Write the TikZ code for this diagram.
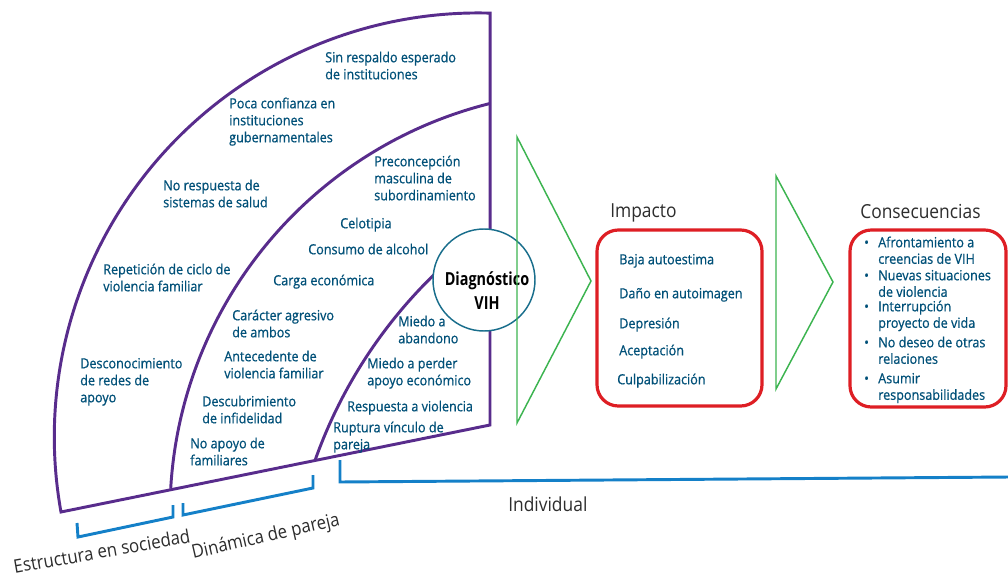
\documentclass[tikz,border=0pt]{standalone}
\usepackage{fontspec}
\setmainfont{Open Sans}[FakeStretch=0.9]
\newfontfamily\bluefont{Open Sans}[FakeStretch=0.9, FakeBold=0.7]
\newfontfamily\diagfont{Open Sans}[FakeStretch=0.8]
\definecolor{txt}{RGB}{0,80,120}
\definecolor{purp}{RGB}{88,44,140}
\definecolor{grn}{RGB}{60,180,80}
\definecolor{redb}{RGB}{222,30,36}
\definecolor{blu}{RGB}{20,128,200}
\definecolor{circ}{RGB}{25,110,140}
\definecolor{ttl}{RGB}{45,45,45}
\newcommand{\fs}{\rule{0pt}{10pt}}
\begin{document}
\begin{tikzpicture}[x=0.75pt, y=-0.75pt,
  fan/.style={draw=purp, line width=2.2pt},
  chev/.style={draw=grn, line width=1.1pt, line join=miter},
  rbox/.style={draw=redb, line width=2.4pt, rounded corners=16pt, inner sep=0pt},
  brk/.style={draw=blu, line width=2.2pt, line join=miter},
  ft/.style={anchor=north west, inner sep=0pt, align=left, text=txt, font=\bluefont\fontsize{10.5}{12.75}\selectfont},
  ct/.style={anchor=north west, inner sep=0pt, align=left, text=txt, font=\bluefont\fontsize{10.5}{12.4}\selectfont},
  lbl/.style={inner sep=0pt, text=ttl, font=\fontsize{14}{17}\selectfont},
  diag/.style={circle, draw=circ, line width=1.1pt, fill=white, minimum size=76.5pt, inner sep=0pt},
  diagtxt/.style={align=center, inner sep=0pt, font=\diagfont\fontsize{13.5}{18}\selectfont\bfseries, text=black}
]
\useasboundingbox (0,0) rectangle (1008,578);
\fill[white] (0,0) rectangle (1008,578);

% fan outline and arcs
\draw[fan] (61,512) arc[start angle=169.8, end angle=271.6, radius=424] -- (490,425) -- cycle;
\draw[fan] (170.7,488.7) arc[start angle=183.3, end angle=256, radius=422];
\draw[fan] (315,460.5) arc[start angle=199.5, end angle=230, radius=485];

% central circle
\node[diag] (dx) at (484,280) {};
\node[diagtxt] (dxt) at (487,291) {Diagnóstico\\VIH};

% outer ring texts
\node[ft] (t1) at (325,48.7) {\fs Sin respaldo esperado\\de instituciones};
\node[ft] (t2) at (229,94.7) {\fs Poca confianza en\\instituciones\\gubernamentales};
\node[ft] (t3) at (163,176.7) {\fs No respuesta de\\sistemas de salud};
\node[ft] (t4) at (103,260.7) {\fs Repetición de ciclo de\\violencia familiar};
\node[ft] (t5) at (80,354.7) {\fs Desconocimiento\\de redes de\\apoyo};
% middle ring texts
\node[ft] (m1) at (374,152.7) {\fs Preconcepción\\masculina de\\subordinamiento};
\node[ft] (m2) at (340,214.7) {\fs Celotipia};
\node[ft] (m3) at (308,240.7) {\fs Consumo de alcohol};
\node[ft] (m4) at (273,271.7) {\fs Carga económica};
\node[ft] (m5) at (232,306.7) {\fs Carácter agresivo\\de ambos};
\node[ft] (m6) at (224,347.7) {\fs Antecedente de\\violencia familiar};
\node[ft] (m7) at (202,392.7) {\fs Descubrimiento\\de infidelidad};
\node[ft] (m8) at (190,434.7) {\fs No apoyo de\\familiares};
% inner ring texts
\node[ft] (i1) at (398,312.7) {\fs Miedo a\\abandono};
\node[ft] (i2) at (367,354.7) {\fs Miedo a perder\\apoyo económico};
\node[ft] (i3) at (347,397.7) {\fs Respuesta a violencia};
\node[ft] (i4) at (333,418.7) {\fs Ruptura vínculo de\\pareja};

% chevrons
\draw[chev] (517,137) -- (591,281) -- (517,423) -- cycle;
\draw[chev] (776,176) -- (833,282) -- (776,389) -- cycle;

% impact box
\node[lbl, anchor=base west, font=\fontsize{14.5}{17}\selectfont] (timp) at (610,217) {Impacto};
\node[rbox, minimum width=123.75pt, minimum height=132pt] (imp) at (679.5,318) {};
\node[ft] (b1) at (619,250.7) {\fs Baja autoestima};
\node[ft] (b2) at (619,284.7) {\fs Daño en autoimagen};
\node[ft] (b3) at (619,314.7) {\fs Depresión};
\node[ft] (b4) at (619,341.7) {\fs Aceptación};
\node[ft] (b5) at (617,370.7) {\fs Culpabilización};

% consequences box
\node[lbl, anchor=base west, font=\fontsize{14.5}{17}\selectfont] (tcon) at (860,218) {Consecuencias};
\node[rbox, minimum width=117pt, minimum height=132.75pt] (cons) at (928,318.5) {};
\node[ct] (c1) at (878,233.7) {\fs\llap{•\hspace{7pt}}Afrontamiento a\\creencias de VIH};
\node[ct] (c2) at (878,266.7) {\fs\llap{•\hspace{7pt}}Nuevas situaciones\\de violencia};
\node[ct] (c3) at (878,297.7) {\fs\llap{•\hspace{7pt}}Interrupción\\proyecto de vida};
\node[ct] (c4) at (878,333.7) {\fs\llap{•\hspace{7pt}}No deseo de otras\\relaciones};
\node[ct] (c5) at (878,369.7) {\fs\llap{•\hspace{7pt}}Asumir\\responsabilidades};

% brackets
\draw[brk] (77,523) -- (78,537) -- (173,517) -- (173,505);
\draw[brk] (183,503) -- (183,515) -- (313,488) -- (313,475);
\draw[brk] (340,460) -- (340,482) -- (1010,477);

% bracket labels
\node[lbl, anchor=base, rotate=10] (l1) at (103,558) {Estructura en sociedad};
\node[lbl, anchor=base, rotate=13] (l2) at (267,542) {Dinámica de pareja};
\node[lbl, anchor=base west, font=\fontsize{14.5}{17}\selectfont] (l3) at (508,511) {Individual};
\end{tikzpicture}
\end{document}
